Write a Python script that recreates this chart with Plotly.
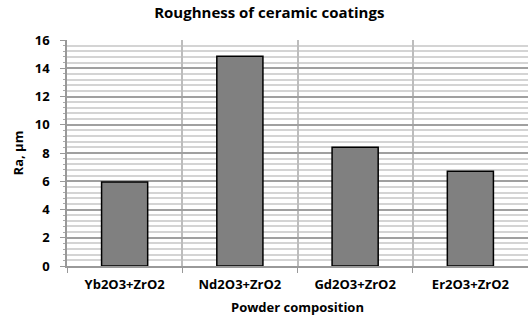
import plotly.graph_objects as go

# Surface roughness measured for each powder composition
compositions = ["Yb2O3+ZrO2", "Nd2O3+ZrO2", "Gd2O3+ZrO2", "Er2O3+ZrO2"]
roughness = [5.95, 14.85, 8.4, 6.7]
y_ticks = [0, 2, 4, 6, 8, 10, 12, 14, 16]

FONT = "Open Sans"

fig = go.Figure(
    go.Bar(
        x=compositions,
        y=roughness,
        marker=dict(color="#808080", line=dict(color="#000000", width=1.5)),
        width=0.4,
    )
)

fig.update_layout(
    width=528,
    height=321,
    margin=dict(l=67, r=0, t=40, b=55),
    paper_bgcolor="white",
    plot_bgcolor="white",
    showlegend=False,
    font=dict(family=FONT, color="#000000", size=13),
    title=dict(
        text="<b>Roughness of ceramic coatings</b>",
        x=0.51, xanchor="center", y=0.96, yanchor="middle",
        font=dict(family=FONT, size=15),
    ),
)

fig.update_xaxes(
    type="category",
    range=[-0.5, 3.5],
    tickson="boundaries",
    showgrid=True,
    gridcolor="#bdbdbd",
    gridwidth=1.5,
    ticks="outside",
    ticklen=5,
    tickcolor="#999999",
    showline=True,
    linecolor="#999999",
    linewidth=1.5,
    ticklabelstandoff=6,
    tickfont=dict(family=FONT, size=13),
    ticktext=[f"<b>{c}</b>" for c in compositions],
    tickvals=compositions,
    title=dict(text="<b>Powder composition</b>", font=dict(family=FONT, size=13), standoff=11),
)

fig.update_yaxes(
    range=[0, 16],
    tickvals=y_ticks,
    ticktext=[f"<b>{v}</b>" for v in y_ticks],
    showgrid=True,
    gridcolor="#a0a0a0",
    gridwidth=1.5,
    zeroline=False,
    ticks="outside",
    ticklen=5,
    tickcolor="#999999",
    showline=True,
    linecolor="#999999",
    linewidth=1.5,
    ticklabelstandoff=8,
    tickfont=dict(family=FONT, size=13),
    minor=dict(
        dtick=0.4,
        showgrid=True,
        gridcolor="#d4d4d4",
        gridwidth=1.5,
        ticks="outside",
        ticklen=2,
        tickcolor="#aaaaaa",
    ),
    title=dict(text="<b>Ra, μm</b>", font=dict(family=FONT, size=13), standoff=8),
)

fig.write_html("out.html")
